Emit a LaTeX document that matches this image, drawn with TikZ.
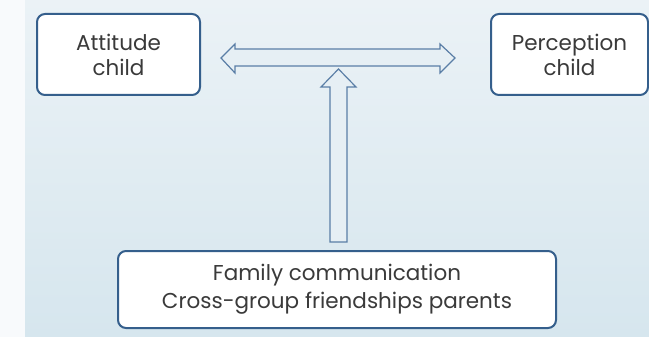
\documentclass[tikz,border=0pt]{standalone}
\usepackage{fontspec}
\setmainfont{Poppins}
\definecolor{bgtop}{HTML}{EBF2F6}
\definecolor{bgbot}{HTML}{D6E6EE}
\definecolor{strip}{HTML}{F8FAFC}
\definecolor{boxline}{HTML}{355F8C}
\definecolor{arrline}{HTML}{5A7EA6}
\definecolor{arrfill}{HTML}{E6EFF4}
\definecolor{txt}{HTML}{3A3A3A}
\tikzset{
  cbox/.style={draw=boxline, line width=2pt, fill=white, rounded corners=8pt,
    align=center, text=txt, inner sep=0pt},
  blockarrow/.style={draw=arrline, line width=1.2pt, fill=arrfill, line join=miter}
}
\begin{document}
\begin{tikzpicture}[x=1pt,y=-1pt]
\useasboundingbox (0,0) rectangle (649,337);
\fill[strip] (0,0) rectangle (25,337);
\shade[top color=bgtop, bottom color=bgbot] (25,0) rectangle (649,337);
\node[cbox, font=\fontsize{21.5}{25}\selectfont, minimum width=163pt, minimum height=81pt] (att) at (118.5,54.5) {Attitude\\child};
\node[cbox, font=\fontsize{21.5}{25}\selectfont, minimum width=157pt, minimum height=81pt] (per) at (569.5,54.5) {Perception\\child};
\node[cbox, font=\fontsize{21.5}{28}\selectfont, minimum width=438pt, minimum height=77pt] (fam) at (337,289.5) {Family communication\\Cross-group friendships parents};
% double arrow between attitude and perception
\coordinate (L) at (221,58);
\coordinate (R) at (455,58);
\draw[blockarrow] (L) -- (235,44) -- (235,49) -- (440,49) -- (440,44) -- (R)
  -- (440,73) -- (440,66) -- (235,66) -- (235,73) -- cycle;
% up arrow from family box to the double arrow
\coordinate (T) at (338.5,69);
\draw[blockarrow] (T) -- (356,87) -- (347,87) -- (347,242) -- (330,242) -- (330,87) -- (321,87) -- cycle;
\end{tikzpicture}
\end{document}
